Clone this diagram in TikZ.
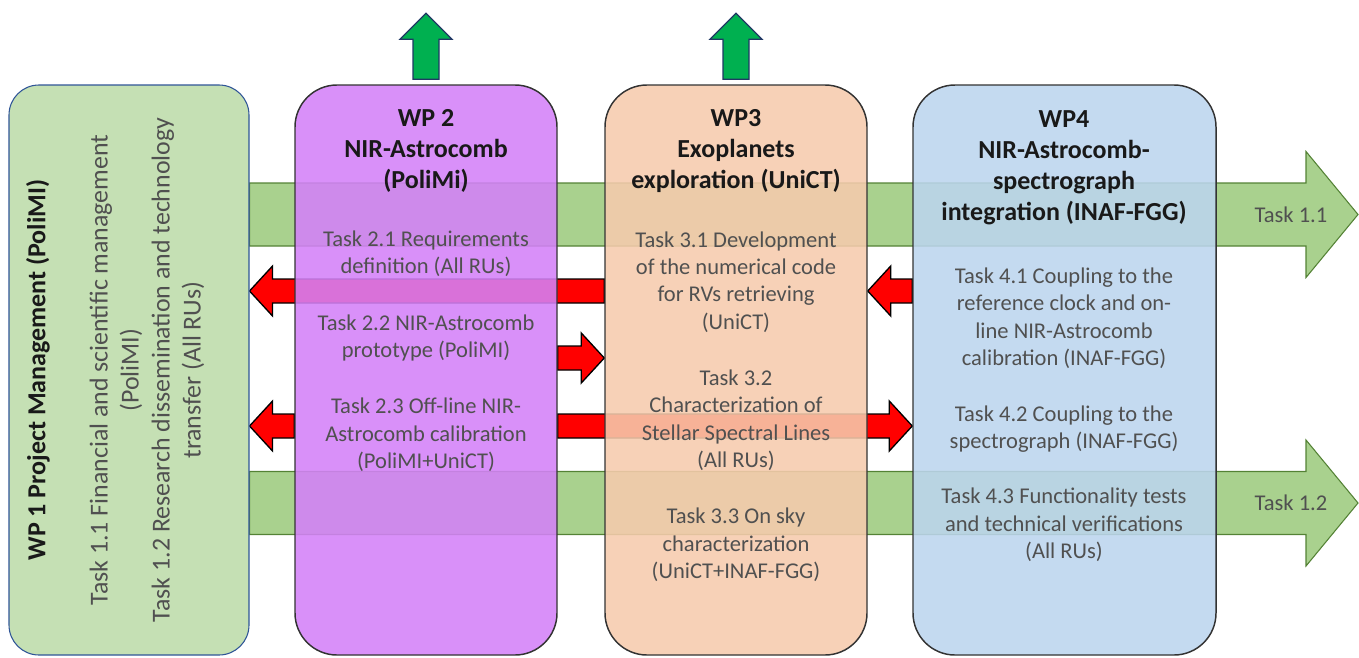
\documentclass[tikz,border=0pt]{standalone}
\usepackage{fontspec}
\setmainfont{Carlito}
\usetikzlibrary{calc,backgrounds}

\definecolor{wponecol}{RGB}{197,224,180}
\definecolor{wponeline}{RGB}{47,85,151}
\definecolor{wptwocol}{RGB}{212,129,248}
\definecolor{wpthreecol}{RGB}{246,203,173}
\definecolor{wpfourcol}{RGB}{188,213,238}
\definecolor{bandcol}{RGB}{169,209,142}
\definecolor{bandline}{RGB}{84,130,53}
\definecolor{upcol}{RGB}{0,176,80}
\definecolor{upline}{RGB}{32,56,100}
\definecolor{taskgray}{RGB}{80,80,80}

\tikzset{
  wpbox/.style={draw=black!80, line width=1.1pt, fill opacity=0.88, minimum height=427.5pt, rounded corners=31.5pt},
  titletext/.style={font=\fontsize{19.5}{23.25}\selectfont\bfseries, align=center, text=black!90},
  tasktext/.style={font=\fontsize{16.9}{20.6}\selectfont, align=center, text=taskgray},
  redblock/.style={draw=black, line width=1pt, fill=red},
  bandblock/.style={draw=bandline, line width=0.8pt, fill=bandcol},
  upblock/.style={draw=upline, line width=1pt, fill=upcol},
}

% block arrow: style, tail, tip, direction (1 right, -1 left), body half, head half, head length
\newcommand{\blockarrow}[7]{%
  \draw[#1] ($(#2)+(0,-#5)$) -- ($(#3)+({-(#4)*#7},-#5)$) -- ($(#3)+({-(#4)*#7},-#6)$) -- (#3)
    -- ($(#3)+({-(#4)*#7},#6)$) -- ($(#3)+({-(#4)*#7},#5)$) -- ($(#2)+(0,#5)$) -- cycle;}

\begin{document}
\begin{tikzpicture}[x=0.75pt,y=0.75pt,yscale=-1,xscale=1]
  \useasboundingbox (0,0) rectangle (1359,657);

  % work packages
  \node[wpbox, draw=wponeline, line width=0.8pt, fill=wponecol, fill opacity=1, minimum width=180pt, rounded corners=22.5pt] (wp1) at (129,370) {};
  \node[wpbox, fill=wptwocol, minimum width=196.5pt] (wp2) at (426,370) {};
  \node[wpbox, fill=wpthreecol, minimum width=196.5pt] (wp3) at (736,370) {};
  \node[wpbox, fill=wpfourcol, minimum width=227.25pt] (wp4) at (1064.5,370) {};

  % end points of the block arrows
  \coordinate (b1tail) at (wp1.east |- 0,214.5);
  \coordinate (b1tip) at (1358,214.5);
  \coordinate (b2tail) at (wp1.east |- 0,503);
  \coordinate (b2tip) at (1358,503);
  \coordinate (r1tail) at (wp3.west |- 0,291);
  \coordinate (r1tip) at (wp1.east |- 0,291);
  \coordinate (r2tail) at (wp2.west |- 0,426);
  \coordinate (r2tip) at (wp1.east |- 0,426);
  \coordinate (r3tail) at (wp2.east |- 0,358);
  \coordinate (r3tip) at (wp3.west |- 0,358);
  \coordinate (r4tail) at (wp4.west |- 0,291);
  \coordinate (r4tip) at (wp3.east |- 0,291);
  \coordinate (r5tail) at (wp2.east |- 0,426);
  \coordinate (r5tip) at (wp4.west |- 0,426);

  \begin{scope}[on background layer]
    \blockarrow{bandblock}{b1tail}{b1tip}{1}{31.5}{63}{52}
    \blockarrow{bandblock}{b2tail}{b2tip}{1}{31.5}{63}{52}
    \blockarrow{redblock}{r1tail}{r1tip}{-1}{12}{25}{23}
    \blockarrow{redblock}{r2tail}{r2tip}{-1}{12}{25}{23}
    \blockarrow{redblock}{r3tail}{r3tip}{1}{12}{25}{23}
    \blockarrow{redblock}{r4tail}{r4tip}{-1}{12}{25}{23}
    \blockarrow{redblock}{r5tail}{r5tip}{1}{12}{25}{23}
  \end{scope}

  % outputs on top
  \foreach \wp in {wp2,wp3}
    \draw[upblock] ($(\wp.north)+(-13,-5)$) -- ++(0,-40) -- ++(-13,0) -- ($(\wp.north)+(0,-71)$)
      -- ($(\wp.north)+(26,-45)$) -- ++(-13,0) -- ++(0,40) -- cycle;

  % texts
  \node[titletext, rotate=90] (wp1title) at (38,370) {WP 1 Project Management (PoliMI)};
  \node[tasktext, rotate=90, font=\fontsize{19.4}{23.25}\selectfont] (wp1tasks) at (147,370) {Task 1.1 Financial and scientific management\\(PoliMI)\\Task 1.2 Research dissemination and technology\\transfer (All RUs)};

  \node[titletext] (wp2title) at (426,151) {WP 2\\NIR-Astrocomb\\(PoliMi)};
  \node[tasktext] (t21) at (426,254) {Task 2.1 Requirements\\definition (All RUs)};
  \node[tasktext] (t22) at (426,338) {Task 2.2 NIR-Astrocomb\\prototype (PoliMI)};
  \node[tasktext] (t23) at (426,435) {Task 2.3 Off-line NIR-\\Astrocomb calibration\\(PoliMI+UniCT)};

  \node[titletext] (wp3title) at (736,151) {WP3\\Exoplanets\\exploration (UniCT)};
  \node[tasktext] (t31) at (736,282) {Task 3.1 Development\\of the numerical code\\for RVs retrieving\\(UniCT)};
  \node[tasktext] (t32) at (736,420) {Task 3.2\\Characterization of\\Stellar Spectral Lines\\(All RUs)};
  \node[tasktext] (t33) at (736,545) {Task 3.3 On sky\\characterization\\(UniCT+INAF-FGG)};

  \node[titletext] (wp4title) at (1064,168) {WP4\\NIR-Astrocomb-\\spectrograph\\integration (INAF-FGG)};
  \node[tasktext] (t41) at (1064,318) {Task 4.1 Coupling to the\\reference clock and on-\\line NIR-Astrocomb\\calibration (INAF-FGG)};
  \node[tasktext] (t42) at (1064,429) {Task 4.2 Coupling to the\\spectrograph (INAF-FGG)};
  \node[tasktext] (t43) at (1064,525) {Task 4.3 Functionality tests\\and technical verifications\\(All RUs)};

  \node[tasktext] (b1label) at (1291,215) {Task 1.1};
  \node[tasktext] (b2label) at (1291,503) {Task 1.2};
\end{tikzpicture}
\end{document}
